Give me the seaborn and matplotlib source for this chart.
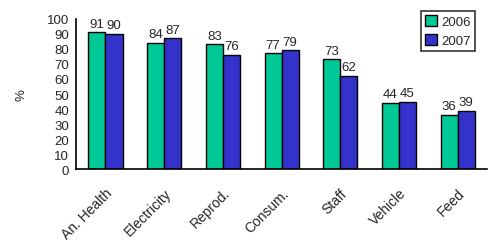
import matplotlib
matplotlib.use("Agg")
import matplotlib.pyplot as plt
import seaborn as sns
import pandas as pd
import numpy as np

categories = ["An. Health", "Electricity", "Reprod.", "Consum.", "Staff", "Vehicle", "Feed"]
years = ["2006", "2007"]
values_2006 = [91, 84, 83, 77, 73, 44, 36]
values_2007 = [90, 87, 76, 79, 62, 45, 39]
colors = ["#00C896", "#3333CC"]


def main():
    sns.set_style("white")
    plt.rcParams["font.family"] = ["Liberation Sans", "DejaVu Sans"]

    df = pd.DataFrame({
        "category": categories * 2,
        "year": [years[0]] * len(categories) + [years[1]] * len(categories),
        "value": values_2006 + values_2007,
    })

    fig = plt.figure(figsize=(4.88, 2.53), dpi=100)
    ax = fig.add_axes([0.156, 0.328, 0.842, 0.593])

    sns.barplot(
        data=df,
        x="category",
        y="value",
        hue="year",
        palette=colors,
        width=0.58,
        edgecolor="black",
        linewidth=1.0,
        saturation=1,
        ax=ax,
    )

    for container in ax.containers:
        ax.bar_label(container, fmt="%d", padding=2, fontsize=9.5)

    ax.set_ylim(0, 100)
    ax.set_yticks(np.arange(0, 101, 10))
    ax.set_xlim(-0.5, len(categories) - 0.5)
    ax.set_xlabel("")
    ax.set_ylabel("%", fontsize=9.5, labelpad=14)

    ax.set_xticks(np.arange(-0.5, len(categories), 1.0), minor=True)
    ax.tick_params(axis="x", which="major", length=0, labelsize=10, pad=12)
    ax.tick_params(axis="x", which="minor", length=4, width=1.2, color="black", direction="out")
    ax.tick_params(axis="y", length=4, width=1.2, color="black", direction="out", labelsize=9.5, pad=1)
    for lbl in ax.get_xticklabels():
        lbl.set_rotation(45)
        lbl.set_ha("right")
        lbl.set_rotation_mode("anchor")

    sns.despine(ax=ax)
    for side in ["left", "bottom"]:
        ax.spines[side].set_color("black")
        ax.spines[side].set_linewidth(1.2)

    ax.legend(
        loc="upper right",
        bbox_to_anchor=(0.97, 1.05),
        frameon=True,
        fancybox=False,
        edgecolor="black",
        fontsize=9.5,
        handlelength=0.9,
        handleheight=0.9,
        handletextpad=0.3,
        borderpad=0.3,
        labelspacing=0.4,
        borderaxespad=0,
    ).get_frame().set_linewidth(1.2)

    fig.savefig("out.png", dpi=100)


if __name__ == "__main__":
    main()
